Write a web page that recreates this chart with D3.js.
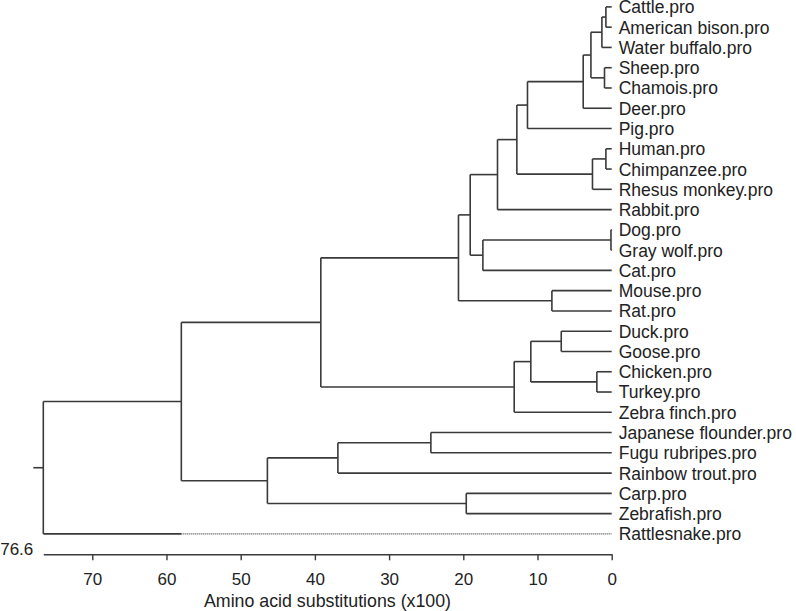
<!DOCTYPE html>
<html>
<head>
<meta charset="utf-8">
<script src="https://cdn.jsdelivr.net/npm/d3@7"></script>
<style>
  html, body { margin: 0; padding: 0; background: #fff; }
  svg { display: block; }
  text { font-family: "Liberation Sans", Arial, Helvetica, sans-serif; fill: #222; }
</style>
</head>
<body>
<svg id="chart" width="796" height="611"></svg>
<script>
// ---- Data (leaf order top to bottom) ----
const leafNames = [
  "Cattle.pro", "American bison.pro", "Water buffalo.pro", "Sheep.pro", "Chamois.pro",
  "Deer.pro", "Pig.pro", "Human.pro", "Chimpanzee.pro", "Rhesus monkey.pro",
  "Rabbit.pro", "Dog.pro", "Gray wolf.pro", "Cat.pro", "Mouse.pro", "Rat.pro",
  "Duck.pro", "Goose.pro", "Chicken.pro", "Turkey.pro", "Zebra finch.pro",
  "Japanese flounder.pro", "Fugu rubripes.pro", "Rainbow trout.pro",
  "Carp.pro", "Zebrafish.pro", "Rattlesnake.pro"
];
// Linkage: merge k creates node index 27+k from mergeLeft[k] and mergeRight[k]
const mergeLeft   = [0,    27,   3,    28,  30,   31,    7,    33,   32,    35,    11,  37,    36,    14,   39,    16,  18,  42,   44,    41,   21,    47,   24,   48,   46,   51];
const mergeRight  = [1,    2,    4,    29,  5,    6,     8,    9,    34,    10,    12,  13,    38,    15,   40,    17,  19,  43,   20,    45,   22,    23,   25,   49,   50,   26];
const mergeHeight = [0.78, 1.32, 0.97, 2.8, 3.84, 11.35, 0.78, 2.59, 12.78, 15.39, 0.1, 17.36, 19.07, 8.06, 20.65, 6.8, 2.0, 10.9, 13.14, 39.2, 24.37, 36.9, 19.6, 46.4, 58.0, 76.6];
const axisMax = 76.6;
const tickValues = [70, 60, 50, 40, 30, 20, 10, 0];
const axisTitle = "Amino acid substitutions (x100)";
const dottedLeaf = "Rattlesnake.pro";

// ---- Build tree ----
const nodes = leafNames.map(n => ({ name: n, height: 0 }));
mergeLeft.forEach((l, k) => {
  nodes.push({ name: null, height: mergeHeight[k], children: [nodes[l], nodes[mergeRight[k]]] });
});
const root = d3.hierarchy(nodes[nodes.length - 1]);

// ---- Scales ----
const x = d3.scaleLinear().domain([axisMax, 0]).range([43.3, 611.7]);
const y = d3.scalePoint().domain(leafNames).range([6.9, 533.9]);

root.eachAfter(n => {
  n.px = x(n.data.height);
  n.py = n.children ? d3.mean(n.children, c => c.py) : y(n.data.name);
});

const svg = d3.select("#chart");
const g = svg.append("g");
const lineColor = "#3a3a3a";

// links: vertical at parent, horizontal to child
const paths = [];
root.descendants().forEach(n => {
  if (!n.children) return;
  const ys = n.children.map(c => c.py);
  paths.push({ d: `M${n.px},${d3.min(ys)}V${d3.max(ys)}`, dotted: false });
  n.children.forEach(c => {
    if (!c.children && c.data.name === dottedLeaf) {
      const sib = n.children.find(s => s !== c);
      const xs = sib.px;
      paths.push({ d: `M${n.px},${c.py}H${xs}`, dotted: false });
      paths.push({ d: `M${xs},${c.py}H${c.px}`, dotted: true });
    } else {
      paths.push({ d: `M${n.px},${c.py}H${c.px}`, dotted: false });
    }
  });
});
// root stub
paths.push({ d: `M${root.px - 10},${root.py}H${root.px}`, dotted: false });

g.selectAll("path.link").data(paths).join("path")
  .attr("class", "link")
  .attr("d", d => d.d)
  .attr("fill", "none")
  .attr("stroke", d => d.dotted ? "#444" : lineColor)
  .attr("stroke-width", d => d.dotted ? 1.3 : 1.6)
  .attr("stroke-dasharray", d => d.dotted ? "1,1" : null);

// leaf labels
g.selectAll("text.leaf").data(root.leaves()).join("text")
  .attr("class", "leaf")
  .attr("x", d => d.px + 7)
  .attr("y", d => d.py)
  .attr("dy", "0.37em")
  .attr("font-size", "17.5px")
  .text(d => d.data.name);

// axis
const axisY = 554.3;
const axis = d3.axisBottom(x).tickValues(tickValues).tickSize(6).tickSizeOuter(0).tickPadding(13)
  .tickFormat(d3.format("d"));
const ax = svg.append("g").attr("transform", `translate(0,${axisY})`).call(axis);
ax.select(".domain").attr("stroke", lineColor).attr("stroke-width", 1.6);
ax.selectAll(".tick line").attr("stroke", lineColor).attr("stroke-width", 1.4);
ax.selectAll(".tick text").attr("font-size", "17px").attr("fill", "#222")
  .attr("font-family", "Liberation Sans, Arial, sans-serif");

// max label at left end
svg.append("text")
  .attr("x", x(axisMax) - 10)
  .attr("y", axisY + 1)
  .attr("text-anchor", "end")
  .attr("font-size", "17px")
  .text(axisMax.toFixed(1));

// axis title
svg.append("text")
  .attr("x", (x.range()[0] + x.range()[1]) / 2)
  .attr("y", 606.7)
  .attr("text-anchor", "middle")
  .attr("font-size", "17.8px")
  .text(axisTitle);
</script>
</body>
</html>
